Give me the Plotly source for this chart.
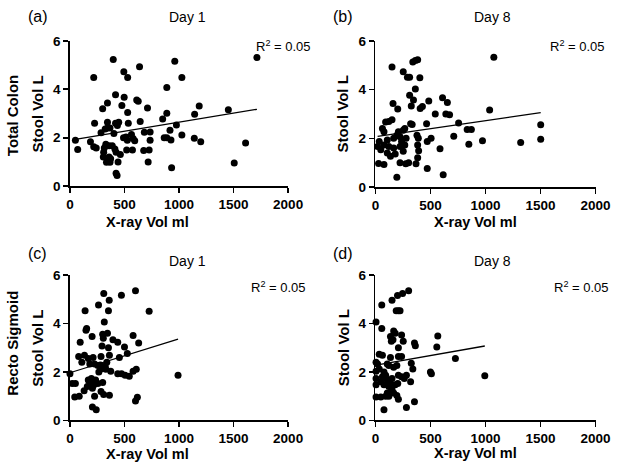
import plotly.graph_objects as go

# ---------------- data ----------------
a_x = [50, 71, 218, 226, 188, 218, 241, 300, 344, 397, 418, 494, 529, 638, 497, 476, 529, 612, 626, 711,
       344, 418, 447, 435, 344, 323, 367, 285, 403, 535, 644, 682, 735, 491, 514, 564, 579, 594, 526, 735,
       329, 359, 388, 412, 423, 315, 309, 306, 359, 373, 335, 367, 441, 462, 520, 573, 676, 726, 717, 423,
       432, 888, 961, 1026, 888, 850, 888, 917, 976, 926, 864, 932, 1026, 1714, 1185, 1143, 1452, 1140,
       1199, 1610, 1506]
a_y = [1.90, 1.51, 4.49, 2.60, 1.83, 1.63, 1.57, 3.20, 3.43, 5.23, 3.77, 4.73, 4.49, 4.93, 3.67, 3.33, 3.04, 3.56, 3.51, 3.23,
       2.64, 2.60, 2.64, 2.50, 2.40, 2.36, 2.40, 2.20, 2.17, 2.60, 2.67, 2.23, 2.24, 2.00, 2.03, 2.13, 1.97, 1.87, 1.89, 1.89,
       1.73, 1.67, 1.67, 1.53, 1.40, 1.57, 1.40, 1.20, 1.20, 1.13, 0.99, 0.99, 1.00, 1.31, 1.49, 1.49, 1.47, 1.49, 1.00, 0.53,
       0.44, 4.07, 5.16, 4.49, 3.01, 2.77, 2.00, 2.31, 2.53, 1.91, 2.00, 0.76, 2.11, 5.31, 3.31, 2.97, 3.16, 1.98,
       1.83, 1.78, 0.96]

b_x = [151, 253, 340, 363, 384, 291, 311, 404, 363, 311, 160, 326, 346, 407, 427, 203, 485, 544, 610, 654,
       640, 674, 93, 122, 151, 64, 78, 320, 334, 465, 209, 253, 267, 378, 390, 35, 108, 166, 195, 224,
       279, 238, 471, 506, 712, 20, 78, 122, 166, 224, 267, 384, 393, 49, 108, 137, 180, 253, 587, 384,
       29, 78, 224, 276, 302, 369, 471, 195, 616, 834, 872, 849, 756, 1076, 1038, 973, 1320, 1502, 1502]
b_y = [4.93, 4.73, 5.13, 5.20, 5.23, 4.51, 4.51, 4.49, 4.03, 3.77, 3.43, 3.33, 3.57, 3.23, 3.31, 3.20, 3.53, 3.00, 3.67, 3.47,
       3.00, 2.97, 2.67, 2.69, 2.76, 2.40, 2.27, 2.60, 2.57, 2.60, 2.27, 2.33, 2.40, 2.13, 2.00, 1.87, 1.93, 2.00, 2.13, 2.07,
       2.00, 1.87, 1.87, 2.00, 2.09, 1.67, 1.73, 1.67, 1.60, 1.67, 1.73, 1.73, 1.49, 1.53, 1.40, 1.27, 1.36, 1.47, 1.57, 1.20,
       0.97, 0.93, 1.00, 0.96, 1.00, 0.96, 0.76, 0.40, 0.51, 2.36, 2.36, 1.76, 2.63, 5.33, 3.16, 1.90, 1.83, 2.56, 1.96]

c_x = [0, 21, 50, 44, 85, 80, 109, 133, 94, 139, 147, 153, 203, 262, 310, 360, 353, 315, 472, 601,
       726, 300, 344, 306, 394, 438, 579, 630, 294, 353, 500, 362, 453, 526, 168, 212, 285, 182, 226, 256,
       279, 300, 323, 329, 285, 374, 438, 473, 506, 544, 579, 608, 168, 197, 212, 235, 182, 220, 256, 206,
       159, 130, 300, 285, 309, 362, 226, 601, 618, 206, 241, 991, 338, 265]
c_y = [1.93, 1.53, 1.53, 0.97, 1.00, 2.64, 2.40, 2.69, 3.23, 4.53, 3.73, 3.80, 3.47, 4.77, 5.24, 4.96, 4.53, 4.07, 5.17, 5.36,
       4.51, 3.56, 3.60, 3.40, 3.33, 3.23, 3.51, 3.20, 3.07, 3.00, 3.03, 2.69, 2.60, 2.77, 2.56, 2.60, 2.64, 2.33, 2.33, 2.27,
       2.29, 2.20, 2.24, 2.11, 2.13, 2.03, 1.93, 1.93, 1.87, 1.83, 2.03, 2.11, 1.67, 1.73, 1.60, 1.67, 1.49, 1.47, 1.53, 1.33,
       1.40, 1.23, 1.57, 1.20, 1.07, 1.04, 1.00, 0.80, 0.96, 0.56, 0.44, 1.87, 2.40, 2.00]

d_x = [6, 58, 151, 201, 247, 302, 189, 209, 224, 58, 137, 166, 180, 145, 160, 238, 253, 355, 363, 567,
       558, 727, 209, 35, 64, 20, 6, 137, 209, 238, 108, 122, 166, 195, 326, 340, 6, 35, 78, 93,
       64, 6, 6, 49, 108, 137, 122, 151, 166, 108, 209, 238, 262, 282, 203, 320, 500, 509, 6, 49,
       93, 122, 195, 209, 355, 282, 78, 180, 78, 151, 994]
d_y = [4.07, 4.77, 4.97, 5.16, 5.24, 5.36, 4.53, 4.53, 4.53, 3.80, 3.47, 3.69, 3.60, 3.27, 3.33, 3.53, 3.27, 3.20, 3.09, 3.49,
       3.03, 2.56, 3.00, 2.73, 2.69, 2.33, 2.40, 2.60, 2.64, 2.64, 2.33, 2.27, 2.20, 2.27, 2.36, 2.13, 2.03, 2.13, 2.00, 1.87,
       1.80, 1.73, 1.47, 1.60, 1.67, 1.53, 1.40, 1.27, 1.13, 1.13, 1.87, 1.80, 1.73, 1.87, 1.53, 1.60, 2.00, 1.93, 0.97, 0.97,
       1.00, 1.00, 1.03, 0.87, 0.77, 0.53, 0.44, 1.47, 1.47, 1.73, 1.85]

# linear fits: [intercept, slope]
fit_a = [1.89, 0.000749]
fit_b = [2.07, 0.000655]
fit_c = [1.97, 0.00140]
fit_d = [2.28, 0.00080]

panel_letters = ["(a)", "(b)", "(c)", "(d)"]
day_titles = ["Day 1", "Day 8", "Day 1", "Day 8"]
row_titles = ["Total Colon", "Recto Sigmoid"]
r2_text = "R<sup>2</sup> = 0.05"
x_title = "X-ray Vol ml"
y_title = "Stool Vol L"
x_ticks = [0, 500, 1000, 1500, 2000]
y_ticks = [0, 2, 4, 6]

# ---------------- layout geometry (pixels) ----------------
W, H = 627, 472
FONT = "Liberation Sans, Arial, sans-serif"

def px_x(p):
    return p / W

def px_y(p):
    return 1 - p / H

panels = [
    dict(x0=68, x1=293, y0=35, y1=185, data=(a_x, a_y), fit=fit_a,
         letter_y=10, day_y=10, day_x=189, r2=(288, 40), xt=(148, 222)),
    dict(x0=383, x1=610, y0=35, y1=186, data=(b_x, b_y), fit=fit_b,
         letter_y=10, day_y=10, day_x=504, r2=(591, 40), xt=(486, 222)),
    dict(x0=68, x1=293, y0=277, y1=427, data=(c_x, c_y), fit=fit_c,
         letter_y=255, day_y=262, day_x=189, r2=(283, 289), xt=(148, 462)),
    dict(x0=383, x1=610, y0=277, y1=427, data=(d_x, d_y), fit=fit_d,
         letter_y=255, day_y=262, day_x=504, r2=(596, 289), xt=(486, 461)),
]

fig = go.Figure()
annotations = []

def ann(text, x, y, size, bold=False, angle=0):
    f = dict(family=FONT, size=size, color="black")
    if bold:
        f["weight"] = "bold"
    return dict(text=text, x=px_x(x), y=px_y(y), xref="paper", yref="paper",
                showarrow=False, xanchor="center", yanchor="middle", textangle=angle, font=f)

for i, p in enumerate(panels):
    n = "" if i == 0 else str(i + 1)
    xa, ya = "x" + n, "y" + n
    xs, ys = p["data"]
    b0, b1 = p["fit"]
    fx = [min(xs), max(xs)]
    fy = [b0 + b1 * v for v in fx]
    fig.add_trace(go.Scatter(x=xs, y=ys, mode="markers", xaxis=xa, yaxis=ya,
                             marker=dict(color="black", size=7, line=dict(width=0)),
                             cliponaxis=False, showlegend=False, hoverinfo="skip"))
    fig.add_trace(go.Scatter(x=fx, y=fy, mode="lines", xaxis=xa, yaxis=ya,
                             line=dict(color="black", width=1.3),
                             cliponaxis=False, showlegend=False, hoverinfo="skip"))
    axis_common = dict(showgrid=False, zeroline=False, showline=True, linecolor="black",
                       linewidth=1.6, ticks="outside", ticklen=5, tickwidth=1.6, tickcolor="black",
                       tickfont=dict(family=FONT, size=13.5, color="black", weight="bold"))
    fig.update_layout(**{
        ("xaxis" + n): dict(domain=[px_x(p["x0"]), px_x(p["x1"])], anchor=ya, range=[0, 2000],
                             tickvals=x_ticks, ticktext=[str(t) for t in x_ticks], **axis_common),
        ("yaxis" + n): dict(domain=[px_y(p["y1"]), px_y(p["y0"])], anchor=xa, range=[0, 6],
                             tickvals=y_ticks, ticktext=[str(t) for t in y_ticks], **axis_common),
    })
    cy = (p["y0"] + p["y1"]) / 2
    annotations.append(ann(x_title, p["xt"][0], p["xt"][1], 14.5, bold=True))
    annotations.append(ann(y_title, p["x0"] - 33, cy, 15, bold=True, angle=-90))
    annotations.append(ann(panel_letters[i], p["x0"] - 33, p["letter_y"], 16))
    annotations.append(ann(day_titles[i], p["day_x"], p["day_y"], 14))
    annotations.append(ann(r2_text, p["r2"][0], p["r2"][1], 13))

annotations.append(ann(row_titles[0], 9, 112, 15, bold=True, angle=-90))
annotations.append(ann(row_titles[1], 9, 347, 15, bold=True, angle=-90))

fig.update_layout(width=W, height=H, margin=dict(l=0, r=0, t=0, b=0),
                  paper_bgcolor="white", plot_bgcolor="white",
                  annotations=annotations, showlegend=False, hovermode=False)

fig.write_html("out.html", config={"displayModeBar": False, "staticPlot": True},
               post_script="document.body.style.margin='0px';document.body.style.overflow='hidden';")
